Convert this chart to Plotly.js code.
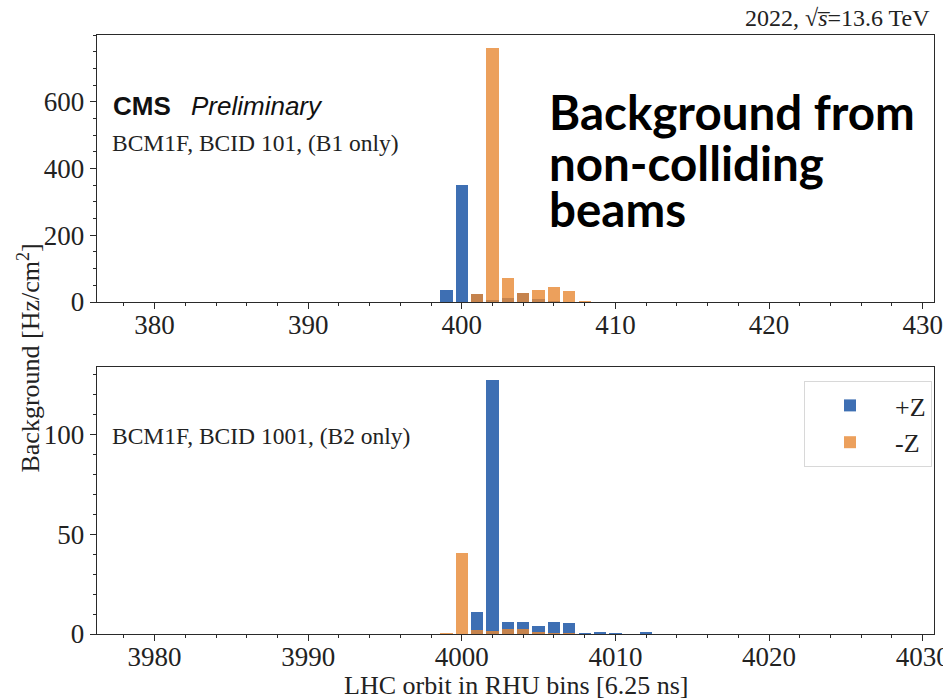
<!DOCTYPE html>
<html>
<head>
<meta charset="utf-8">
<script src="https://cdn.plot.ly/plotly-3.0.1.min.js"></script>
<style>html,body{margin:0;padding:0;background:#fff;} #chart{width:943px;height:700px;}</style>
</head>
<body>
<div id="chart"></div>
<script>
// ---- data ----
const binsB1 = [398, 399, 400, 401, 402, 403, 404, 405, 406, 407, 408, 409];
const b1PlusZ  = [0, 37, 350, 24, 5, 12, 28, 8, 2, 1, 1, 0.5];
const b1MinusZ = [0, 0, 0, 24, 761, 72, 28, 35, 45, 33, 2, 1.5];

const binsB2 = [3999, 4000, 4001, 4002, 4003, 4004, 4005, 4006, 4007, 4008, 4009, 4010, 4011, 4012];
const b2PlusZ  = [0, 0, 11.2, 127.3, 5.8, 5.8, 3.8, 6.0, 5.3, 0.3, 0.8, 0.3, 0.2, 0.8];
const b2MinusZ = [0.6, 40.7, 2.2, 1.3, 2.5, 2.5, 1.2, 0.5, 0.3, 0, 0, 0, 0, 0];

const seriesNames = ['+Z', '-Z'];
const xTicksTop = [380, 390, 400, 410, 420, 430];
const xTicksBottom = [3980, 3990, 4000, 4010, 4020, 4030];
const yTicksTop = [0, 200, 400, 600];
const yTicksBottom = [0, 50, 100];

// ---- styling ----
const BLUE = '#3e6fb3';
const ORANGE = 'rgba(231,136,51,0.8)';
const serif = '"Liberation Serif", "DejaVu Serif", serif';
const sans = '"Liberation Sans", Arial, sans-serif';

const traces = [
  {type:'bar', x: binsB1, y: b1PlusZ, name: seriesNames[0], width: 0.8,
   marker:{color: BLUE, line:{width:0}}, xaxis:'x', yaxis:'y', showlegend:false},
  {type:'bar', x: binsB1, y: b1MinusZ, name: seriesNames[1], width: 0.8,
   marker:{color: ORANGE, line:{width:0}}, xaxis:'x', yaxis:'y', showlegend:false},
  {type:'bar', x: binsB2, y: b2PlusZ, name: seriesNames[0], width: 0.8,
   marker:{color: BLUE, line:{width:0}}, xaxis:'x2', yaxis:'y2'},
  {type:'bar', x: binsB2, y: b2MinusZ, name: seriesNames[1], width: 0.8,
   marker:{color: ORANGE, line:{width:0}}, xaxis:'x2', yaxis:'y2'}
];

const L = 96.5, R = 9, T = 35, B = 66;
const W = 943, H = 700;
const pw = W - L - R, ph = H - T - B;
const px = v => (v - L) / pw;
const py = v => (H - B - v) / ph;

const axisCommon = {
  showline: true, linecolor: '#2a2a2a', linewidth: 1.4, mirror: true,
  ticks: 'outside', ticklen: 6, tickwidth: 1, tickcolor: '#2a2a2a',
  showgrid: false, zeroline: false,
  tickfont: {family: serif, size: 27, color: '#222'}
};

const layout = {
  width: W, height: H,
  margin: {l: L, r: R, t: T, b: B},
  paper_bgcolor: '#fff', plot_bgcolor: '#fff',
  barmode: 'overlay',
  bargap: 0,
  showlegend: true,
  legend: {
    x: px(932), y: py(381), xanchor: 'right', yanchor: 'top',
    bgcolor: '#fff', bordercolor: '#d8d8d8', borderwidth: 1,
    font: {family: serif, size: 26, color: '#222'},
    itemwidth: 80, tracegroupgap: 6
  },
  xaxis: Object.assign({}, axisCommon, {
    anchor: 'y', domain: [0, 1], range: [376.25, 430.74],
    tickvals: xTicksTop, ticktext: xTicksTop.map(String),
    ticklabelstandoff: -8, ticklabeloverflow: 'allow',
    minor: {dtick: 2, ticks: 'outside', ticklen: 3, tickcolor: '#2a2a2a'}
  }),
  yaxis: Object.assign({}, axisCommon, {
    anchor: 'x', domain: [py(302), 1], range: [0, 800],
    tickvals: yTicksTop,
    minor: {dtick: 50, ticks: 'outside', ticklen: 3, tickcolor: '#2a2a2a'}
  }),
  xaxis2: Object.assign({}, axisCommon, {
    anchor: 'y2', domain: [0, 1], range: [3976.25, 4030.74],
    tickvals: xTicksBottom, ticktext: xTicksBottom.map(String),
    ticklabelstandoff: -8, ticklabeloverflow: 'allow',
    minor: {dtick: 2, ticks: 'outside', ticklen: 3, tickcolor: '#2a2a2a'}
  }),
  yaxis2: Object.assign({}, axisCommon, {
    anchor: 'x2', domain: [0, py(367)], range: [0, 133.7],
    tickvals: yTicksBottom,
    minor: {dtick: 10, ticks: 'outside', ticklen: 3, tickcolor: '#2a2a2a'}
  }),
  annotations: [
    {xref:'paper', yref:'paper', x: px(111), y: py(106), xanchor:'left', yanchor:'middle',
     text:'<b>CMS</b>', showarrow:false, font:{family: sans, size: 26, color:'#111'}},
    {xref:'paper', yref:'paper', x: px(189), y: py(106), xanchor:'left', yanchor:'middle',
     text:'<i>Preliminary</i>', showarrow:false, font:{family: sans, size: 26, color:'#111'}},
    {xref:'paper', yref:'paper', x: px(110), y: py(143), xanchor:'left', yanchor:'middle',
     text:'BCM1F, BCID 101, (B1 only)', showarrow:false, font:{family: serif, size: 23.5, color:'#222'}},
    {xref:'paper', yref:'paper', x: px(110), y: py(436), xanchor:'left', yanchor:'middle',
     text:'BCM1F, BCID 1001, (B2 only)', showarrow:false, font:{family: serif, size: 23.5, color:'#222'}},
    {xref:'paper', yref:'paper', x: px(932), y: py(18), xanchor:'right', yanchor:'middle',
     text:'2022, √<i>s\u0305</i>=13.6 TeV', showarrow:false, font:{family: serif, size: 24, color:'#222'}},
    {xref:'paper', yref:'paper', x: px(547), y: py(111), xanchor:'left', yanchor:'middle', align:'left',
     text:'<b>Background from</b>', showarrow:false,
     font:{family: 'Lato, "Noto Sans", sans-serif', size: 47.5, color:'#000'}},
    {xref:'paper', yref:'paper', x: px(547), y: py(162), xanchor:'left', yanchor:'middle', align:'left',
     text:'<b>non-colliding</b>', showarrow:false,
     font:{family: 'Lato, "Noto Sans", sans-serif', size: 47.5, color:'#000'}},
    {xref:'paper', yref:'paper', x: px(547), y: py(209), xanchor:'left', yanchor:'middle', align:'left',
     text:'<b>beams</b>', showarrow:false,
     font:{family: 'Lato, "Noto Sans", sans-serif', size: 47.5, color:'#000'}},
    {xref:'paper', yref:'paper', x: px(28), y: py(358), xanchor:'center', yanchor:'middle', textangle:-90,
     text:'Background [Hz/cm<sup>2</sup>]', showarrow:false, font:{family: serif, size: 26, color:'#222'}},
    {xref:'paper', yref:'paper', x: px(516), y: py(685), xanchor:'center', yanchor:'middle',
     text:'LHC orbit in RHU bins [6.25 ns]', showarrow:false, font:{family: serif, size: 26, color:'#222'}}
  ]
};

Plotly.newPlot('chart', traces, layout, {displayModeBar: false, staticPlot: true});
</script>
</body>
</html>
